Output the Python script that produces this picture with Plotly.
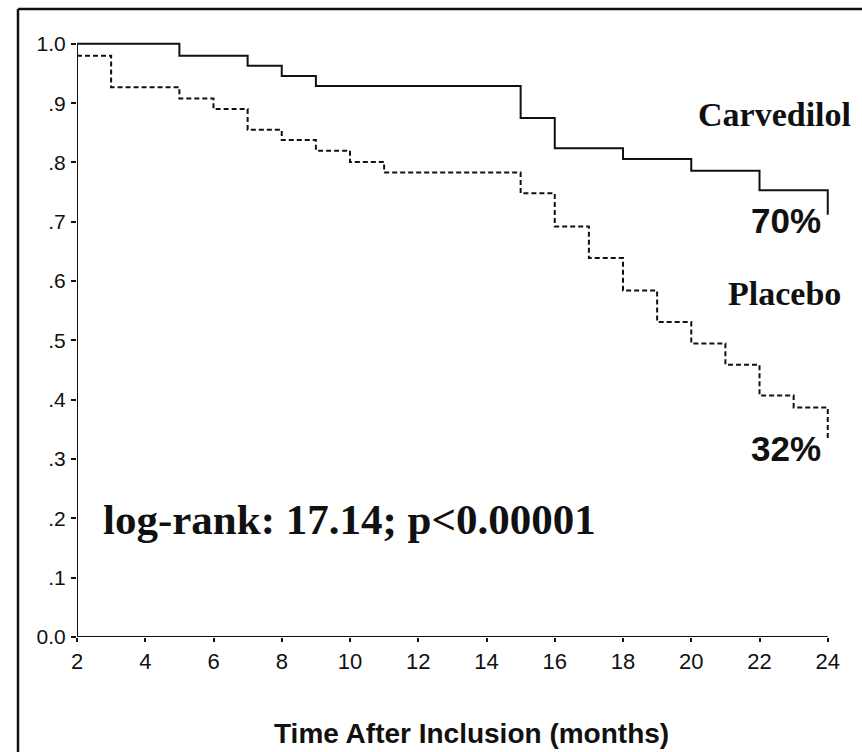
import plotly.graph_objects as go

# --- data (Kaplan-Meier step curves) ---
carv_time = [2, 5, 7, 8, 9, 15, 16, 18, 20, 22, 24, 24]
carv_surv = [1.0, 0.98, 0.963, 0.946, 0.929, 0.875, 0.824, 0.806, 0.786, 0.753, 0.753, 0.712]

plac_time = [2, 3, 5, 6, 7, 8, 9, 10, 11, 15, 16, 17, 18, 19, 20, 21, 22, 23, 24, 24]
plac_surv = [0.98, 0.927, 0.908, 0.89, 0.855, 0.838, 0.82, 0.801, 0.783, 0.748, 0.692,
             0.639, 0.584, 0.531, 0.495, 0.459, 0.407, 0.387, 0.387, 0.333]

x_ticks = [2, 4, 6, 8, 10, 12, 14, 16, 18, 20, 22, 24]
y_ticks = [0.0, 0.1, 0.2, 0.3, 0.4, 0.5, 0.6, 0.7, 0.8, 0.9, 1.0]
y_ticktext = ["0.0", ".1", ".2", ".3", ".4", ".5", ".6", ".7", ".8", ".9", "1.0"]

W, H = 862, 752
ML, MR, MT, MB = 77, 24, 32, 115
PW, PH = W - ML - MR, H - MT - MB


def px(X):
    return (X - ML) / PW


def py(Y):
    return (H - MB - Y) / PH


SANS = "Liberation Sans, Arial, sans-serif"
SERIF = "Liberation Serif, Times New Roman, serif"

fig = go.Figure()
fig.add_trace(go.Scatter(x=carv_time, y=carv_surv, mode="lines", line_shape="hv",
                         line=dict(color="#111", width=2), name="Carvedilol",
                         showlegend=False, hoverinfo="skip"))
fig.add_trace(go.Scatter(x=plac_time, y=plac_surv, mode="lines", line_shape="hv",
                         line=dict(color="#111", width=2, dash="5px,3px"), name="Placebo",
                         showlegend=False, hoverinfo="skip"))

fig.update_layout(
    width=W, height=H,
    margin=dict(l=ML, r=MR, t=MT, b=MB, pad=0),
    paper_bgcolor="white", plot_bgcolor="white",
    xaxis=dict(range=[2, 24.3], tickvals=x_ticks, ticks="outside", ticklen=4, tickwidth=2,
               tickcolor="#111", showgrid=False, zeroline=False, showline=False,
               tickfont=dict(family=SANS, size=22, color="#111"), ticklabelstandoff=1),
    yaxis=dict(range=[0, 1.02], tickvals=y_ticks, ticktext=y_ticktext, ticks="outside",
               ticklen=5, tickwidth=2, tickcolor="#111", showgrid=False, zeroline=False,
               showline=False, tickfont=dict(family=SANS, size=21, color="#111"),
               ticklabelstandoff=1),
)

# axis lines
fig.add_shape(type="line", xref="x", yref="y", x0=2, x1=2, y0=0, y1=1.0,
              line=dict(color="#111", width=2))
fig.add_shape(type="line", xref="x", yref="y", x0=2, x1=24, y0=0, y1=0,
              line=dict(color="#111", width=2))
# outer frame (top and left edges)
fig.add_shape(type="line", xref="paper", yref="paper", x0=px(18), x1=px(870), y0=py(9), y1=py(9),
              line=dict(color="#111", width=2.5))
fig.add_shape(type="line", xref="paper", yref="paper", x0=px(18), x1=px(18), y0=py(9), y1=py(760),
              line=dict(color="#111", width=2.5))

ann = [
    dict(text="<b>Carvedilol</b>", X=774.5, Y=115, fam=SERIF, size=34),
    dict(text="<b>Placebo</b>", X=784, Y=293, fam=SERIF, size=34),
    dict(text="<b>70%</b>", X=786, Y=220, fam=SANS, size=35),
    dict(text="<b>32%</b>", X=786, Y=448, fam=SANS, size=35),
    dict(text="<b>log-rank: 17.14; p<0.00001</b>", X=349, Y=519, fam=SERIF, size=43),
    dict(text="<b>Time After Inclusion (months)</b>", X=471.5, Y=733, fam=SANS, size=28),
]
for a in ann:
    fig.add_annotation(text=a["text"].replace("<0", "&lt;0"), xref="paper", yref="paper",
                       x=px(a["X"]), y=py(a["Y"]), xanchor="center", yanchor="middle",
                       showarrow=False, font=dict(family=a["fam"], size=a["size"], color="#111"))

fig.write_html("out.html", config={"displayModeBar": False, "staticPlot": True},
               post_script="document.body.style.margin='0';document.body.style.overflow='hidden';")
